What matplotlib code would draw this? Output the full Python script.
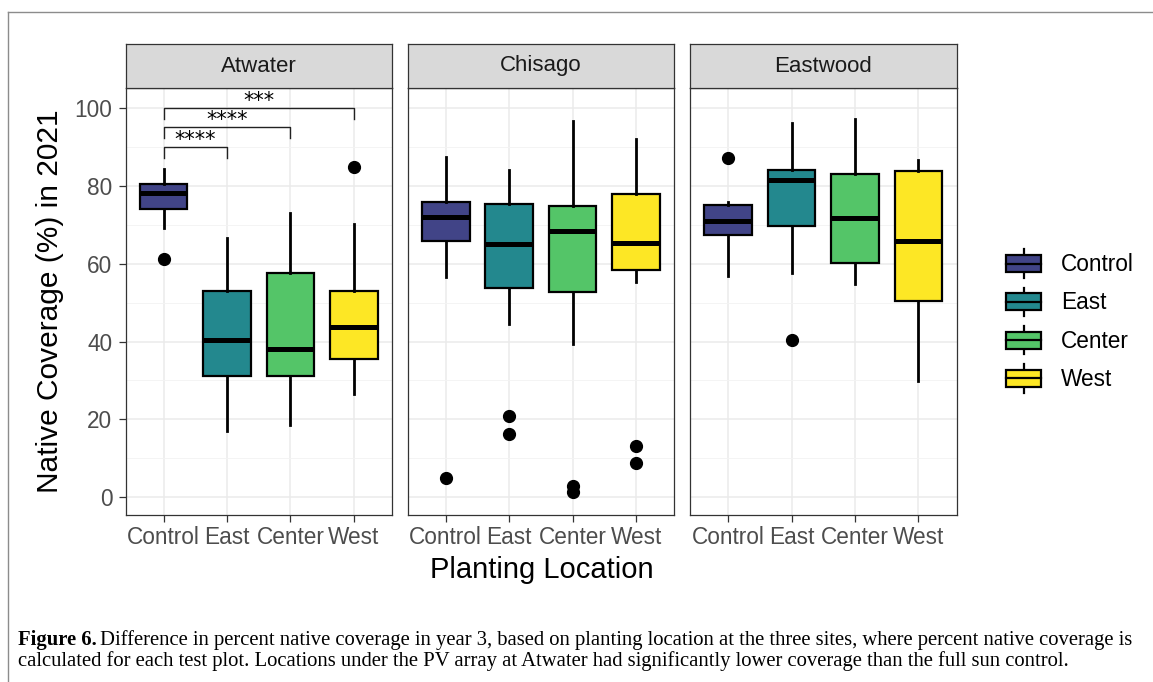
import numpy as np
import matplotlib.pyplot as plt
from matplotlib.lines import Line2D
from matplotlib.patches import Rectangle
from matplotlib.legend_handler import HandlerBase

plt.rcParams['font.family'] = ['Liberation Sans', 'DejaVu Sans']

sites = ['Atwater', 'Chisago', 'Eastwood']
locations = ['Control', 'East', 'Center', 'West']

# box stats, per location: [whisker low, Q1, median, Q3, whisker high]
atwater_stats = [[69.3, 74.0, 78.3, 80.4, 84.4],
                 [16.9, 31.2, 40.5, 52.9, 66.7],
                 [18.5, 31.2, 38.0, 57.6, 73.0],
                 [26.6, 35.5, 43.8, 52.9, 70.3]]
chisago_stats = [[56.6, 65.8, 72.1, 75.9, 87.5],
                 [44.4, 53.9, 65.1, 75.3, 84.1],
                 [39.4, 52.7, 68.5, 74.9, 96.6],
                 [55.4, 58.4, 65.3, 77.9, 92.2]]
eastwood_stats = [[56.8, 67.3, 71.1, 75.2, 75.8],
                  [57.5, 69.6, 81.5, 84.2, 96.2],
                  [54.7, 60.3, 71.8, 83.2, 97.3],
                  [29.8, 50.5, 65.8, 83.8, 86.8]]

atwater_outliers = [[61.2], [], [], [85.0]]
chisago_outliers = [[4.9], [20.9, 16.2], [2.9, 1.4], [13.1, 8.9]]
eastwood_outliers = [[87.3], [40.3], [], []]

# significance brackets (Atwater only)
sig_pairs = [('Control', 'East'), ('Control', 'Center'), ('Control', 'West')]
sig_labels = ['****', '****', '***']
sig_heights = [90.0, 95.2, 100.0]

all_stats = [atwater_stats, chisago_stats, eastwood_stats]
all_outliers = [atwater_outliers, chisago_outliers, eastwood_outliers]

colors = [plt.cm.viridis(v) for v in np.linspace(0.2, 1.0, 4)]

W, H = 1153, 682
fig = plt.figure(figsize=(W / 100, H / 100), dpi=100)


def px_rect(x0, y0, x1, y1):
    return [x0 / W, 1 - y1 / H, (x1 - x0) / W, (y1 - y0) / H]


panel_left = [125.5, 407.7, 690.0]
panel_w = 266.5
edge = '#333333'

for i, site in enumerate(sites):
    l = panel_left[i]
    ax = fig.add_axes(px_rect(l, 88, l + panel_w, 515))
    ax.set_xlim(0.4, 4.6)
    ax.set_ylim(-4.6, 105.2)
    ax.set_yticks(range(0, 101, 20))
    ax.set_yticks(range(10, 100, 20), minor=True)
    ax.set_axisbelow(True)
    ax.grid(which='major', color='#EBEBEB', lw=1.1)
    ax.grid(which='minor', axis='y', color='#F3F3F3', lw=0.6)

    stats = []
    for s, fl in zip(all_stats[i], all_outliers[i]):
        stats.append(dict(whislo=s[0], q1=s[1], med=s[2], q3=s[3], whishi=s[4], fliers=fl))
    bp = ax.bxp(stats, positions=[1, 2, 3, 4], widths=0.75, patch_artist=True,
                showcaps=False,
                boxprops=dict(linewidth=1.6, edgecolor='black'),
                whiskerprops=dict(linewidth=2.0, color='black'),
                medianprops=dict(linewidth=3.6, color='black', solid_capstyle='butt'),
                flierprops=dict(marker='o', markerfacecolor='black',
                                markeredgecolor='black', markersize=8.5))
    for patch, c in zip(bp['boxes'], colors):
        patch.set_facecolor(c)

    ax.set_xticks([1, 2, 3, 4])
    ax.set_xticklabels(locations)
    for sp in ax.spines.values():
        sp.set_color(edge)
        sp.set_linewidth(0.9)
    ax.tick_params(axis='both', length=5, width=0.9, color=edge, labelsize=16.3,
                   labelcolor='#4D4D4D', pad=3)
    ax.tick_params(axis='y', pad=4.5)
    ax.tick_params(which='minor', length=0)
    if i > 0:
        ax.tick_params(axis='y', left=False, labelleft=False)

    if site == 'Atwater':
        for (a, b), lab, h in zip(sig_pairs, sig_labels, sig_heights):
            xa = locations.index(a) + 1
            xb = locations.index(b) + 1
            ax.plot([xa, xa, xb, xb], [h - 2.8, h, h, h - 2.8], color='#222222',
                    lw=1.0, clip_on=False)
            ax.text((xa + xb) / 2, h + 0.3, lab, ha='center', va='baseline',
                    fontsize=15, family='DejaVu Sans')

    sax = fig.add_axes(px_rect(l, 44, l + panel_w, 88))
    sax.set_facecolor('#D9D9D9')
    sax.set_xticks([])
    sax.set_yticks([])
    for sp in sax.spines.values():
        sp.set_color(edge)
        sp.set_linewidth(0.9)
    sax.text(0.5, 0.5, site, ha='center', va='center', fontsize=16,
             color='#1A1A1A', transform=sax.transAxes)

fig.text(50 / W, 1 - 301.5 / H, 'Native Coverage (%) in 2021', rotation=90,
         ha='center', va='center', fontsize=21.5)
fig.text(541.75 / W, 1 - 570 / H, 'Planting Location', ha='center', va='center',
         fontsize=21)


class BoxKey(HandlerBase):
    def create_artists(self, legend, orig_handle, xdescent, ydescent, width,
                       height, fontsize, trans):
        x0, y0 = -xdescent, -ydescent
        bh = height * 0.6
        by = y0 + (height - bh) / 2
        xm = x0 + width / 2
        wbot = Line2D([xm, xm], [y0, by], color='black', lw=1.6, transform=trans)
        wtop = Line2D([xm, xm], [by + bh, y0 + height], color='black', lw=1.6,
                      transform=trans)
        box = Rectangle((x0, by), width, bh, facecolor=orig_handle.get_facecolor(),
                        edgecolor='black', lw=1.6, transform=trans)
        med = Line2D([x0, x0 + width], [by + bh / 2] * 2, color='black', lw=1.6,
                     transform=trans)
        return [wbot, wtop, box, med]


handles = [Rectangle((0, 0), 1, 1, facecolor=c) for c in colors]
fs_leg = 16.3
fig.legend(handles, locations, handler_map={Rectangle: BoxKey()},
           loc='center left', bbox_to_anchor=(1006 / W, 1 - 321 / H),
           frameon=False, fontsize=fs_leg, handlelength=35 / (fs_leg * 100 / 72),
           handleheight=35 / (fs_leg * 100 / 72),
           labelspacing=10 / (fs_leg * 100 / 72), handletextpad=0.9,
           borderpad=0, borderaxespad=0)

# thin frame around the figure area
fig.add_artist(Line2D([8 / W, 8 / W], [0, 1 - 12 / H], color='#8C8C8C', lw=1.0,
                      transform=fig.transFigure))
fig.add_artist(Line2D([8 / W, 1], [1 - 12 / H, 1 - 12 / H], color='#8C8C8C', lw=1.0,
                      transform=fig.transFigure))

# caption
cap_font = dict(family='Liberation Serif', fontsize=14.9, va='center')
t1 = fig.text(18 / W, 1 - 640 / H, 'Figure 6.', fontweight='bold', **cap_font)
renderer = fig.canvas.get_renderer()
bb = t1.get_window_extent(renderer)
fig.text((bb.x1 + 3) / W, 1 - 640 / H,
         'Difference in percent native coverage in year 3, based on planting location '
         'at the three sites, where percent native coverage is', **cap_font)
fig.text(18 / W, 1 - 661 / H,
         'calculated for each test plot. Locations under the PV array at Atwater had '
         'significantly lower coverage than the full sun control.', **cap_font)

fig.savefig('out.png', dpi=100)
